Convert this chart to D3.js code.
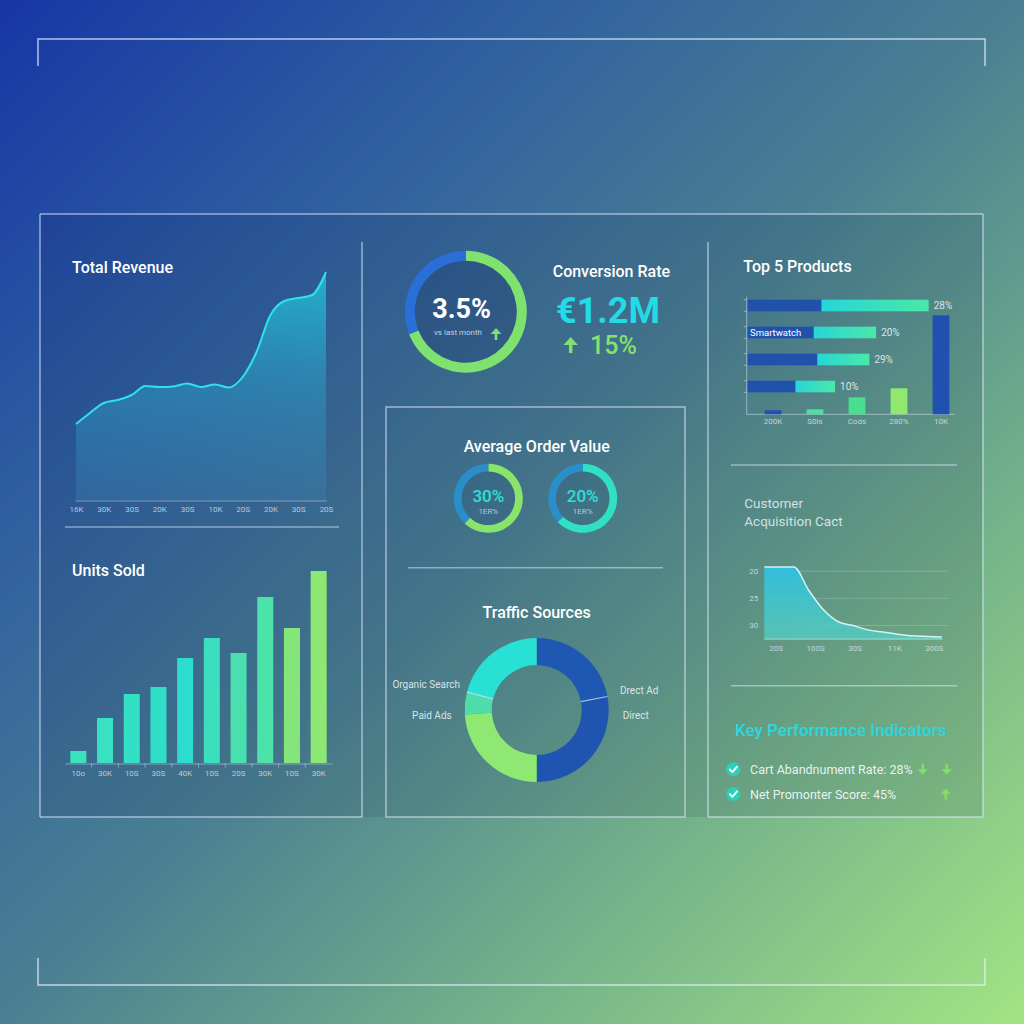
<!DOCTYPE html>
<html><head><meta charset="utf-8">
<script src="https://cdn.jsdelivr.net/npm/d3@7"></script>
<style>html,body{margin:0;padding:0;background:#3a6a98;} svg{display:block;font-family:Roboto,"Open Sans",sans-serif;}</style>
</head><body><svg id="c" width="1024" height="1024"></svg>
<script>
// ---------- DATA ----------
const revenueTicks = ["16K","30K","30S","20K","30S","10K","20S","20K","30S","20S"];
const revenueValues = [76,87,97,100,105,114,113,113.5,116.5,113,115.5,112.5,123,148,185,199,202,205,228];
const unitsCategories = ["10o","30K","10S","30S","40K","10S","20S","30K","10S","30K"];
const unitsValues = [12,45,69,76,105,125,110,166,135,192];
const conversionShare = [69,31];
const conversionValue = "3.5%";
const conversionSub = "vs last month";
const revenueKpi = "€1.2M";
const revenueChange = "15%";
const aovLabels = ["30%","20%"];
const aovSubs = ["1ER%","1ER%"];
const aovFilled = [62,63];
const trafficNames = ["Drect Ad","Direct","Paid Ads","","Organic Search"];
const trafficValues = [22,28,24,5,21];
const productPct = ["28%","20%","29%","10%"];
const productInner = ["","Smartwatch","",""];
const productDark = [71,63.5,67,46];
const productLight = [103,60,50,38];
const productColLabels = ["200K","S0ls","Cods","280%","10K"];
const productColValues = [4,5,17,26,99];
const cacValues = [19.3,19.3,19.3,23.6,27.2,29.4,30.1,30.9,31.3,31.7,32.0,32.1,32.2];
const cacTicks = [20,25,30];
const cacXLabels = ["20S","100S","30S","11K","300S"];
const cacBase = 32.6;
const kpiItems = ["Cart Abandnument Rate: 28%","Net Promonter Score: 45%"];
const kpiArrows = [["down","down"],["up"]];

// ---------- SETUP ----------
const svg = d3.select("#c");
const defs = svg.append("defs");
function lg(id, stops, x1,y1,x2,y2, units){
  const g = defs.append("linearGradient").attr("id",id)
    .attr("x1",x1).attr("y1",y1).attr("x2",x2).attr("y2",y2);
  if(units) g.attr("gradientUnits",units);
  stops.forEach(s=>g.append("stop").attr("offset",s[0]).attr("stop-color",s[1]).attr("stop-opacity",s[2]==null?1:s[2]));
}
lg("bg",[[0,"#1636a6"],[0.25,"#2e5ea0"],[0.5,"#4a8092"],[0.75,"#76b48a"],[1,"#a2e484"]],0,0,1,1);
lg("revFill",[[0,"#22c8dc",0.8],[0.5,"#2a9cc4",0.55],[1,"#3a80b0",0.35]],0,270,0,500,"userSpaceOnUse");
lg("prodLight",[[0,"#26d6d6"],[1,"#4ae8a8"]],0,0,1,0);
lg("cacFill",[[0,"#2ec0e2",0.95],[1,"#52d4c8",0.7]],0,565,0,640,"userSpaceOnUse");

svg.append("rect").attr("width",1024).attr("height",1024).attr("fill","url(#bg)");

const frame = "rgba(225,238,255,0.6)";
// brackets
svg.append("path").attr("d","M38,66V39H985V66").attr("fill","none").attr("stroke","rgba(230,240,255,0.75)").attr("stroke-width",1.5);
svg.append("path").attr("d","M38,958V985H985V958").attr("fill","none").attr("stroke","rgba(230,240,255,0.75)").attr("stroke-width",1.5);

// panel overlay
svg.append("rect").attr("x",40).attr("y",214).attr("width",943).attr("height",603).attr("fill","rgba(8,20,60,0.11)");
const lines = [[40,214,983,214],[40,214,40,817],[40,817,362,817],[362,242,362,817],[708,242,708,817],[983,214,983,817],[708,817,983,817]];
lines.forEach(l=>svg.append("line").attr("x1",l[0]).attr("y1",l[1]).attr("x2",l[2]).attr("y2",l[3]).attr("stroke",frame).attr("stroke-width",1.5));
svg.append("rect").attr("x",386).attr("y",407).attr("width",299).attr("height",410).attr("fill","none").attr("stroke",frame).attr("stroke-width",1.5);

function title(txt,x,y,size,anchor,fill,weight){
  return svg.append("text").attr("x",x).attr("y",y).attr("font-size",size).attr("font-weight",weight||500)
    .attr("fill",fill||"#ffffff").attr("text-anchor",anchor||"start").text(txt);
}
function arrow(x,y,dir,h,color){
  const s = dir==="up"?-1:1;
  const hw = h*0.45, hh = h*0.5;
  const tip = y + s*h/2, base = y - s*h/2;
  const g = svg.append("g");
  g.append("path").attr("d",`M${x},${tip}L${x-hw},${tip-s*hh}L${x+hw},${tip-s*hh}Z`).attr("fill",color);
  g.append("line").attr("x1",x).attr("x2",x).attr("y1",tip-s*hh+s*0.5).attr("y2",base).attr("stroke",color).attr("stroke-width",h*0.22);
}
function sep(x1,x2,y){ svg.append("line").attr("x1",x1).attr("x2",x2).attr("y1",y).attr("y2",y).attr("stroke","rgba(225,238,255,0.5)").attr("stroke-width",1.5); }

// ---------- TOTAL REVENUE ----------
title("Total Revenue",72,273,16);
const xR = d3.scaleLinear().domain([0,revenueValues.length-1]).range([76,326]);
const yR = d3.scaleLinear().domain([0,240]).range([500,260]);
svg.append("path").datum(revenueValues).attr("fill","url(#revFill)")
  .attr("d",d3.area().x((d,i)=>xR(i)).y0(yR(0)).y1(d=>yR(d)).curve(d3.curveMonotoneX));
svg.append("path").datum(revenueValues).attr("fill","none").attr("stroke","#2fe2ea").attr("stroke-width",2)
  .attr("d",d3.line().x((d,i)=>xR(i)).y(d=>yR(d)).curve(d3.curveMonotoneX));
const xRT = d3.scalePoint().domain(d3.range(revenueTicks.length)).range([76,326]);
const axR = svg.append("g").attr("transform","translate(0,501)")
  .call(d3.axisBottom(xRT).tickSize(0).tickPadding(5).tickFormat(i=>revenueTicks[i]));
axR.select(".domain").attr("stroke","rgba(220,235,255,0.45)").attr("d","M75.5,0H327");
axR.selectAll("text").attr("fill","rgba(225,235,250,0.75)").attr("font-size",8).attr("font-family","Roboto");
sep(65,339,527);

// ---------- UNITS SOLD ----------
title("Units Sold",72,576,16);
const xU = d3.scaleBand().domain(d3.range(unitsValues.length)).range([65,332]).paddingInner(0.4).paddingOuter(0.2);
const yU = d3.scaleLinear().domain([0,200]).range([763,563]);
const cU = d3.scaleLinear().domain([0,4,6,7,8,9]).range(["#3ae3bd","#2cdccc","#4adfae","#4ce3aa","#84e67a","#8ce872"]);
svg.append("g").selectAll("rect").data(unitsValues).join("rect")
  .attr("x",(d,i)=>xU(i)).attr("width",xU.bandwidth()).attr("y",d=>yU(d)).attr("height",d=>yU(0)-yU(d))
  .attr("fill",(d,i)=>cU(i));
const axU = svg.append("g").attr("transform","translate(0,763.5)")
  .call(d3.axisBottom(xU).tickSize(0).tickPadding(7).tickFormat(i=>unitsCategories[i]));
axU.select(".domain").attr("stroke","rgba(220,235,255,0.45)");
axU.selectAll("text").attr("fill","rgba(225,235,250,0.75)").attr("font-size",8).attr("font-family","Roboto");
d3.range(1,unitsValues.length).forEach(i=>{
  const x = xU(i) - xU.step()*0.2;
  svg.append("line").attr("x1",x).attr("x2",x).attr("y1",763.5).attr("y2",767.5).attr("stroke","rgba(220,235,255,0.45)");
});

// ---------- CONVERSION ----------
const pie = d3.pie().sort(null).value(d=>d);
const cx1=465.8, cy1=311.7;
svg.append("circle").attr("cx",cx1).attr("cy",cy1).attr("r",51).attr("fill","rgba(20,40,100,0.22)");
const arcC = d3.arc().innerRadius(51).outerRadius(61);
svg.append("g").attr("transform",`translate(${cx1},${cy1})`).selectAll("path").data(pie(conversionShare)).join("path")
  .attr("d",arcC).attr("fill",(d,i)=>["#7fe26e","#2a6fd8"][i]);
title(conversionValue,461.7,317.6,27,"middle","#ffffff",700);
title(conversionSub,458,334.5,8,"middle","rgba(230,238,250,0.8)",400);
arrow(496,334,"up",12,"#7de070");
title("Conversion Rate",552.7,277.4,16);
title(revenueKpi,556,323,36,"start","#22dbe6",700);
arrow(570.7,345,"up",16,"#7ee070");
title(revenueChange,590,354,25,"start","#86e26e",500);

// ---------- AVERAGE ORDER VALUE ----------
title("Average Order Value",536.7,452.4,16,"middle");
const arcA = d3.arc().innerRadius(26.8).outerRadius(34.5);
const aovCenters = [488.3,582.7];
const aovColors = ["#8ae46c","#30e0c4"];
aovFilled.forEach((v,k)=>{
  const g = svg.append("g").attr("transform",`translate(${aovCenters[k]},498.3)`);
  g.append("circle").attr("r",27).attr("fill","rgba(20,60,110,0.12)");
  g.selectAll("path").data(pie([v,100-v])).join("path").attr("d",arcA).attr("fill",(d,i)=>i===0?aovColors[k]:"#2a8ec8");
  g.append("text").attr("y",3.3).attr("text-anchor","middle").attr("font-size",17).attr("font-weight",500).attr("fill","#2ee0d6").text(aovLabels[k]);
  g.append("text").attr("y",15.7).attr("text-anchor","middle").attr("font-size",8).attr("fill","rgba(220,235,245,0.75)").text(aovSubs[k]);
});
sep(408,663,567.7);

// ---------- TRAFFIC SOURCES ----------
title("Traffic Sources",536.7,618.4,16,"middle");
const cxT=536.7, cyT=710;
const arcT = d3.arc().innerRadius(45).outerRadius(72);
const tColors = ["#1f58b2","#1f55b0","#8ee872","#4edcaa","#28e0d4"];
const tArcs = pie(trafficValues);
const gT = svg.append("g").attr("transform",`translate(${cxT},${cyT})`);
gT.selectAll("path").data(tArcs).join("path").attr("d",arcT).attr("fill",(d,i)=>tColors[i]);
[1,4].forEach(i=>{
  const a = tArcs[i].startAngle;
  gT.append("line").attr("x1",45*Math.sin(a)).attr("y1",-45*Math.cos(a)).attr("x2",72*Math.sin(a)).attr("y2",-72*Math.cos(a))
    .attr("stroke","rgba(210,230,255,0.7)").attr("stroke-width",1.2);
});
const tLabelPos = [[83.3,-16,"start"],[86,9,"start"],[-85,9,"end"],null,[-76.7,-22.5,"end"]];
trafficNames.forEach((n,i)=>{
  if(!n) return;
  const p = tLabelPos[i];
  gT.append("text").attr("x",p[0]).attr("y",p[1]).attr("text-anchor",p[2]).attr("font-size",10)
    .attr("fill","rgba(235,245,250,0.88)").text(n);
});

// ---------- TOP 5 PRODUCTS ----------
title("Top 5 Products",743.3,272.4,16);
const yP = d3.scaleBand().domain(d3.range(productDark.length)).range([292,400]).paddingInner(0.57).paddingOuter(0.285);
const xP = d3.scaleLinear().domain([0,200]).range([747.7,955.7]);
const axisCol = "rgba(220,235,255,0.5)";
svg.append("line").attr("x1",746.7).attr("x2",746.7).attr("y1",296.7).attr("y2",414.3).attr("stroke",axisCol);
svg.append("line").attr("x1",746.7).attr("x2",955).attr("y1",414.3).attr("y2",414.3).attr("stroke",axisCol);
productDark.forEach((d,i)=>{
  [yP(i),yP(i)+yP.bandwidth()].forEach(y=>svg.append("line").attr("x1",743.7).attr("x2",746.7).attr("y1",y).attr("y2",y).attr("stroke",axisCol));
});
const gP = svg.append("g");
gP.selectAll("rect.d").data(productDark).join("rect").attr("class","d")
  .attr("x",xP(0)).attr("y",(d,i)=>yP(i)).attr("height",yP.bandwidth()).attr("width",d=>xP(d)-xP(0)).attr("fill","#2052ac");
gP.selectAll("rect.l").data(productLight).join("rect").attr("class","l")
  .attr("x",(d,i)=>xP(productDark[i])).attr("y",(d,i)=>yP(i)).attr("height",yP.bandwidth())
  .attr("width",(d,i)=>xP(productDark[i]+d)-xP(productDark[i])).attr("fill","url(#prodLight)");
gP.selectAll("text.p").data(productPct).join("text").attr("class","p")
  .attr("x",(d,i)=>xP(productDark[i]+productLight[i])+5).attr("y",(d,i)=>yP(i)+yP.bandwidth()/2+3.5)
  .attr("font-size",10).attr("fill","rgba(235,245,250,0.88)").text(d=>d);
gP.selectAll("text.n").data(productInner).join("text").attr("class","n")
  .attr("x",750).attr("y",(d,i)=>yP(i)+yP.bandwidth()/2+3.3).attr("font-size",9.5).attr("fill","#ffffff").text(d=>d);
const xV = d3.scaleBand().domain(d3.range(productColValues.length)).range([752,962]).paddingInner(0.6).paddingOuter(0.3);
const yV = d3.scaleLinear().domain([0,100]).range([414.3,314.3]);
const vColors = ["#2050b0","#50e0a0","#48e090","#90e870","#2050b0"];
gP.selectAll("rect.v").data(productColValues).join("rect").attr("class","v")
  .attr("x",(d,i)=>xV(i)).attr("width",xV.bandwidth()).attr("y",d=>yV(d)).attr("height",d=>yV(0)-yV(d)).attr("fill",(d,i)=>vColors[i]);
const axV = svg.append("g").attr("transform","translate(0,414.3)")
  .call(d3.axisBottom(xV).tickSize(0).tickPadding(4).tickFormat(i=>productColLabels[i]));
axV.select(".domain").remove();
axV.selectAll("text").attr("fill","rgba(225,235,250,0.78)").attr("font-size",8).attr("font-family","Roboto");
sep(731,957,465);

// ---------- CUSTOMER ACQUISITION COST ----------
title("Customer",744.3,508.3,13.5,"start","rgba(232,242,248,0.85)",400);
title("Acquisition Cact",744.3,525.7,13.5,"start","rgba(232,242,248,0.85)",400);
const xC = d3.scaleLinear().domain([0,cacValues.length-1]).range([764.3,941.9]);
const yC = d3.scaleLinear().domain([20,30]).range([570.7,625]);
const axC = svg.append("g").attr("transform","translate(764.3,0)")
  .call(d3.axisLeft(yC).tickValues(cacTicks).tickSize(-(948-764.3)).tickPadding(6).tickFormat(d=>String(d)));
axC.select(".domain").remove();
axC.selectAll("line").attr("stroke","rgba(220,240,255,0.22)");
axC.selectAll("text").attr("fill","rgba(225,235,250,0.75)").attr("font-size",8).attr("font-family","Roboto");
svg.append("path").datum(cacValues).attr("fill","url(#cacFill)")
  .attr("d",d3.area().x((d,i)=>xC(i)).y0(yC(cacBase)).y1(d=>yC(d)).curve(d3.curveMonotoneX));
svg.append("path").datum(cacValues).attr("fill","none").attr("stroke","rgba(225,250,255,0.9)").attr("stroke-width",1.5)
  .attr("d",d3.line().x((d,i)=>xC(i)).y(d=>yC(d)).curve(d3.curveMonotoneX));
const xCL = d3.scalePoint().domain(d3.range(cacXLabels.length)).range([775.7,933.7]);
const axCL = svg.append("g").attr("transform",`translate(0,${yC(cacBase)})`)
  .call(d3.axisBottom(xCL).tickSize(0).tickPadding(6).tickFormat(i=>cacXLabels[i]));
axCL.select(".domain").attr("stroke","rgba(225,240,255,0.6)").attr("d","M764.3,0H942.3");
axCL.selectAll("text").attr("fill","rgba(225,235,250,0.75)").attr("font-size",8).attr("font-family","Roboto");
sep(731,957,685.7);

// ---------- KPI ----------
title("Key Performance Indicators",735,736,17,"start","#2ad8e2",500);
const kpiY = [769.3,794];
const arrowX = {down:[922.7,946.7], up:[945.7]};
kpiItems.forEach((t,i)=>{
  const y = kpiY[i];
  svg.append("circle").attr("cx",733.3).attr("cy",y).attr("r",7).attr("fill","#2ccfb8");
  svg.append("path").attr("d",`M${729.8},${y+0.2}L${732.4},${y+2.8}L${737},${y-2.6}`).attr("fill","none")
    .attr("stroke","#ffffff").attr("stroke-width",1.8).attr("stroke-linecap","round").attr("stroke-linejoin","round");
  title(t,750,y+4.5,12.5,"start","rgba(242,248,250,0.94)",400);
  kpiArrows[i].forEach((dir,k)=>arrow(arrowX[dir][k],y,dir,11,"#84e060"));
});
</script></body></html>
